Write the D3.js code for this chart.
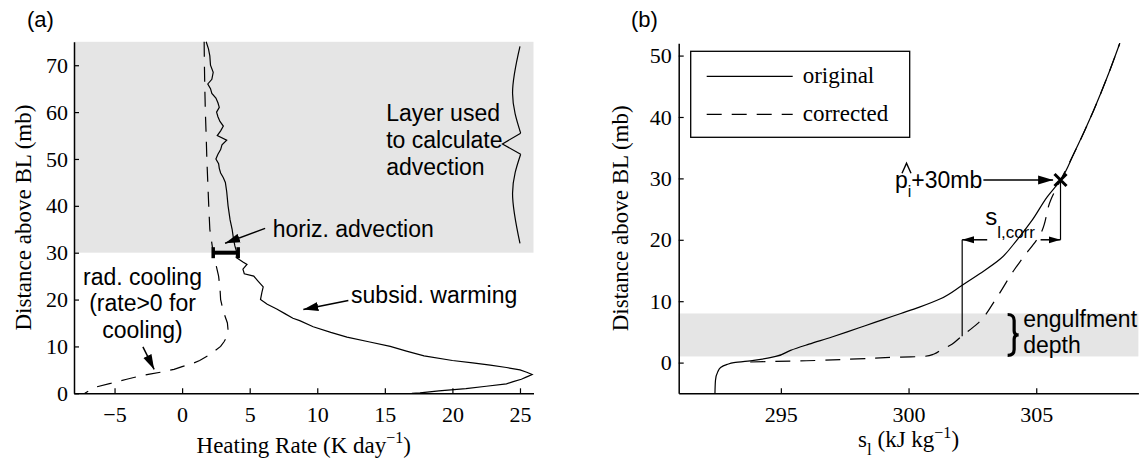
<!DOCTYPE html>
<html>
<head>
<meta charset="utf-8">
<script src="https://cdn.jsdelivr.net/npm/d3@7"></script>
<style>
  body { margin: 0; background: #fff; }
  svg { display: block; }
</style>
</head>
<body>
<svg id="chart" width="1147" height="466"></svg>
<script>
// ---- panel (a): heating rate profiles ----
var totalY = [75, 73.5, 72, 70, 68.5, 67, 66, 65, 64, 63, 62, 61, 60, 59, 58, 57, 56, 55, 54, 53, 52, 51, 50, 49, 48, 47, 46, 45, 43, 40, 37, 35, 33, 31.5, 30, 29, 28, 27.5, 26.5, 25.5, 25, 24, 22.7, 21.5, 20, 19, 18, 17, 16, 15.5, 14.2, 13, 12, 11, 10, 9, 8, 7, 6.5, 6, 5.5, 5, 4.5, 4, 3.5, 3, 2.5, 2, 1.5, 1, 0.5, 0.1, 0];
var totalRate = [1.78, 1.95, 2.05, 2.1, 2.3, 2.2, 1.9, 2.1, 2.2, 2.5, 2.65, 2.75, 2.55, 2.65, 2.8, 3.05, 2.85, 2.6, 3.3, 2.95, 2.85, 2.65, 2.5, 2.7, 2.75, 2.85, 3.05, 3.2, 3.3, 3.4, 3.55, 3.7, 3.8, 3.9, 4.05, 4.0, 4.5, 4.8, 4.5, 4.6, 5.3, 5.6, 6.0, 5.9, 5.8, 6.3, 7.0, 7.6, 8.2, 8.7, 9.7, 11.0, 12.2, 13.8, 15.4, 16.6, 17.9, 20.0, 21.5, 22.8, 24.0, 25.0, 25.5, 25.9, 25.5, 25.1, 24.5, 24.0, 22.5, 21.0, 19.0, 17.6, 17.0];

var radY = [75, 70, 65, 60, 55, 50, 45, 40, 35, 30, 27.5, 25, 22.5, 20, 17.5, 15, 13.5, 12, 11, 10, 9, 8, 7, 6.4, 5.7, 5.1, 4.5, 4.1, 3.5, 3.0, 2.5, 2.1, 1.4, 0.7, 0];
var radRate = [1.63, 1.65, 1.68, 1.72, 1.78, 1.83, 1.9, 1.97, 2.05, 2.3, 2.5, 2.7, 2.8, 2.85, 3.05, 3.35, 3.4, 3.3, 3.1, 2.85, 2.4, 1.9, 1.3, 0.8, 0, -0.6, -1.6, -2.4, -3.4, -4.1, -4.8, -5.3, -6.3, -6.8, -7.2];

var rateTicks = [-5, 0, 5, 10, 15, 20, 25];
var distTicksA = [0, 10, 20, 30, 40, 50, 60, 70];
var advLayer = [30, 75];
var advBar = [2.3, 4.15];   // horizontal advection bar at 30 mb

// ---- panel (b): s_l profiles ----
var origY = [-5, -2.9, -1.5, -0.8, -0.3, 0, 0.37, 1.0, 2.0, 3.0, 4.17, 5.0, 6.0, 7.0, 8.0, 9.0, 10.4, 12.6, 14.5, 16.9, 20, 23.2, 27, 29.7, 34, 41.1, 46.5, 52];
var origSl = [292.42, 292.44, 292.53, 292.64, 292.9, 293.16, 293.94, 294.8, 295.38, 296.1, 297.0, 297.6, 298.3, 299.0, 299.7, 300.4, 301.25, 302.1, 302.8, 303.6, 304.25, 304.84, 305.43, 305.95, 306.47, 307.25, 307.78, 308.27];

var corrY = [0.1, 0.3, 0.6, 0.9, 1.0, 1.4, 2.0, 3.0, 4.17, 6.35, 10.7, 15.0, 16.9, 21, 26.4, 29.7, 34, 41.1, 46.5, 52];
var corrSl = [293.8, 296, 298, 299.7, 300.6, 301.0, 301.25, 301.7, 302.04, 302.7, 303.47, 304.12, 304.45, 305.17, 305.56, 305.95, 306.47, 307.25, 307.78, 308.27];

var slTicks = [295, 300, 305];
var distTicksB = [0, 10, 20, 30, 40, 50];
var engulfLayer = [1, 8];
var pMark = [305.95, 29.74];   // p_i + 30 mb
var slCorr = [302.1, 305.95, 20]; // from, to, at height

var serif = "'Liberation Serif', 'Times New Roman', serif";
var sans = "'Liberation Sans', Arial, Helvetica, sans-serif";

var svg = d3.select("#chart");

// scales
var xa = d3.scaleLinear().domain([-8, 26]).range([74, 533.5]);
var ya = d3.scaleLinear().domain([0, 75]).range([393.3, 41.8]);
var xb = d3.scaleLinear().domain([291, 309]).range([678.7, 1138.4]);
var yb = d3.scaleLinear().domain([-5, 52]).range([393.3, 43.3]);

// arrow markers
var defs = svg.append("defs");
defs.append("marker")
    .attr("id", "arr")
    .attr("markerUnits", "userSpaceOnUse")
    .attr("markerWidth", 16).attr("markerHeight", 10)
    .attr("refX", 15).attr("refY", 5)
    .attr("orient", "auto")
    .append("path")
    .attr("d", "M0,0.5 L15,5 L0,9.5 Z")
    .attr("fill", "#000");
defs.append("marker")
    .attr("id", "arrSmall")
    .attr("markerUnits", "userSpaceOnUse")
    .attr("markerWidth", 13).attr("markerHeight", 8)
    .attr("refX", 12).attr("refY", 4)
    .attr("orient", "auto")
    .append("path")
    .attr("d", "M0,0.5 L12,4 L0,7.5 Z")
    .attr("fill", "#000");

function arrow(g, x, y, p0, p1, marker) {
    g.append("line")
        .attr("x1", x(p0[0])).attr("y1", y(p0[1]))
        .attr("x2", x(p1[0])).attr("y2", y(p1[1]))
        .attr("stroke", "#000").attr("stroke-width", 1.5)
        .attr("marker-end", "url(#" + (marker || "arr") + ")");
}

// ================= panel (a) =================
var ga = svg.append("g");

ga.append("rect")
    .attr("x", xa(-8)).attr("y", ya(advLayer[1]))
    .attr("width", xa(26) - xa(-8))
    .attr("height", ya(advLayer[0]) - ya(advLayer[1]))
    .attr("fill", "#e5e5e5");

var lineA = (xs, ys) => d3.line()
    .x((d, i) => xa(xs[i]))
    .y((d, i) => ya(ys[i]))(ys);

ga.append("path")
    .attr("d", lineA(radRate, radY))
    .attr("fill", "none").attr("stroke", "#000")
    .attr("stroke-width", 1.2).attr("stroke-dasharray", "15,10");

ga.append("path")
    .attr("d", lineA(totalRate, totalY))
    .attr("fill", "none").attr("stroke", "#000")
    .attr("stroke-width", 1.2);

// horizontal advection bar
ga.append("line")
    .attr("x1", xa(advBar[0])).attr("x2", xa(advBar[1]))
    .attr("y1", ya(30)).attr("y2", ya(30))
    .attr("stroke", "#000").attr("stroke-width", 4);
advBar.forEach(v => {
    ga.append("line")
        .attr("x1", xa(v)).attr("x2", xa(v))
        .attr("y1", ya(30) - 5.5).attr("y2", ya(30) + 5.5)
        .attr("stroke", "#000").attr("stroke-width", 3.5);
});

// curly brace for the advection layer
var braceUp = [[25, 74], [24.45, 64], [25.05, 55.5]];
var braceLo = [[25.05, 51], [24.45, 42.7], [25, 32]];
var braceLine = d3.line().x(d => xa(d[0])).y(d => ya(d[1])).curve(d3.curveNatural);
[braceUp, braceLo].forEach(pts => {
    ga.append("path").attr("d", braceLine(pts))
        .attr("fill", "none").attr("stroke", "#000").attr("stroke-width", 1.2);
});
ga.append("path")
    .attr("d", d3.line().x(d => xa(d[0])).y(d => ya(d[1])) ([[25.05, 55.5], [23.7, 53.2], [25.05, 51]]))
    .attr("fill", "none").attr("stroke", "#000").attr("stroke-width", 1.2);

// annotations (a)
function multiText(g, x, y, lines, anchor) {
    var t = g.append("text")
        .attr("x", x).attr("y", y)
        .attr("font-family", sans).attr("font-size", 23)
        .attr("text-anchor", anchor || "start");
    lines.forEach((s, i) => {
        t.append("tspan").attr("x", x).attr("dy", i ? 26.6 : 0).text(s);
    });
    return t;
}
multiText(ga, xa(15.1), ya(58), ["Layer used", "to calculate", "advection"]);
multiText(ga, xa(6.7), ya(33.3), ["horiz. advection"]);
multiText(ga, xa(-2.93), ya(23.2), ["rad. cooling", "(rate>0 for", "cooling)"], "middle");
multiText(ga, xa(12.5), ya(19.2), ["subsid. warming"]);

arrow(ga, xa, ya, [6.14, 35.2], [3.18, 32.0]);
arrow(ga, xa, ya, [-2.9, 9.9], [-2.07, 5.1]);
arrow(ga, xa, ya, [12.3, 19.8], [8.97, 17.9]);

// axes (a)
var axA = ga.append("g")
    .attr("transform", `translate(0,${ya(0)})`)
    .call(d3.axisBottom(xa).tickValues(rateTicks).tickSize(-5).tickSizeOuter(0).tickPadding(13.5));
var ayA = ga.append("g")
    .attr("transform", `translate(${xa(-8)},0)`)
    .call(d3.axisLeft(ya).tickValues(distTicksA).tickSize(-5).tickSizeOuter(0).tickPadding(6));

// labels (a)
var xlabA = ga.append("text")
    .attr("x", (xa.range()[0] + xa.range()[1]) / 2).attr("y", 453)
    .attr("text-anchor", "middle")
    .attr("font-family", serif).attr("font-size", 23);
xlabA.append("tspan").text("Heating Rate (K day");
xlabA.append("tspan").attr("font-size", 16).attr("dy", -10).text("\u22121");
xlabA.append("tspan").attr("dy", 10).text(")");

ga.append("text")
    .attr("transform", `translate(31,${(ya.range()[0] + ya.range()[1]) / 2}) rotate(-90)`)
    .attr("text-anchor", "middle")
    .attr("font-family", serif).attr("font-size", 23)
    .text("Distance above BL (mb)");

ga.append("text").attr("x", 27).attr("y", 27)
    .attr("font-family", sans).attr("font-size", 22).text("(a)");

// ================= panel (b) =================
var gb = svg.append("g");

gb.append("rect")
    .attr("x", xb(291)).attr("y", yb(engulfLayer[1]))
    .attr("width", xb(309) - xb(291))
    .attr("height", yb(engulfLayer[0]) - yb(engulfLayer[1]))
    .attr("fill", "#e5e5e5");

var lineB = (xs, ys) => d3.line()
    .x((d, i) => xb(xs[i]))
    .y((d, i) => yb(ys[i]))
    .curve(d3.curveMonotoneY)(ys);

gb.append("path")
    .attr("d", lineB(corrSl, corrY))
    .attr("fill", "none").attr("stroke", "#000")
    .attr("stroke-width", 1.2).attr("stroke-dasharray", "15,10");

gb.append("path")
    .attr("d", lineB(origSl, origY))
    .attr("fill", "none").attr("stroke", "#000")
    .attr("stroke-width", 1.2);

// s_l,corr construction lines
var yAtCorr = 4.3;
gb.append("line")
    .attr("x1", xb(slCorr[0])).attr("x2", xb(slCorr[0]))
    .attr("y1", yb(yAtCorr)).attr("y2", yb(slCorr[2]))
    .attr("stroke", "#000").attr("stroke-width", 1.2);
gb.append("line")
    .attr("x1", xb(slCorr[1])).attr("x2", xb(slCorr[1]))
    .attr("y1", yb(pMark[1])).attr("y2", yb(slCorr[2]))
    .attr("stroke", "#000").attr("stroke-width", 1.2);
arrow(gb, xb, yb, [303.08, slCorr[2]], [slCorr[0], slCorr[2]], "arrSmall");
arrow(gb, xb, yb, [305.17, slCorr[2]], [slCorr[1], slCorr[2]], "arrSmall");

// X marker
var px = xb(pMark[0]), py = yb(pMark[1]);
gb.append("path")
    .attr("d", `M${px - 6},${py - 6}L${px + 6},${py + 6}M${px - 6},${py + 6}L${px + 6},${py - 6}`)
    .attr("stroke", "#000").attr("stroke-width", 3);

// p_i + 30mb label and arrow
var ptx = xb(299.47), pty = yb(28.4);
var pt = gb.append("text")
    .attr("x", ptx).attr("y", pty)
    .attr("font-family", sans).attr("font-size", 23);
pt.append("tspan").text("p");
pt.append("tspan").attr("font-size", 16).attr("dy", 9).text("i");
pt.append("tspan").attr("dy", -9).text("+30mb");
// hat over p
gb.append("path")
    .attr("d", `M${ptx + 7},${pty - 15}L${ptx + 11.5},${pty - 25}L${ptx + 16},${pty - 15}`)
    .attr("fill", "none").attr("stroke", "#000").attr("stroke-width", 1.4);
arrow(gb, xb, yb, [302.93, pMark[1]], [305.66, pMark[1]]);

// s_l,corr label
var st = gb.append("text")
    .attr("x", xb(303.0)).attr("y", yb(22.4))
    .attr("font-family", sans).attr("font-size", 24);
st.append("tspan").text("s");
st.append("tspan").attr("font-size", 17).attr("dy", 13).text("l,corr");

// engulfment brace
var bx0 = xb(303.88), byT = yb(engulfLayer[1]) + 1, byB = yb(engulfLayer[0]) - 1;
var bym = (byT + byB) / 2, bx1 = bx0 + 6.5, btip = bx0 + 11;
var bp = d3.path();
bp.moveTo(bx0, byT);
bp.quadraticCurveTo(bx1, byT, bx1, byT + 6);
bp.lineTo(bx1, bym - 4);
bp.quadraticCurveTo(bx1, bym, btip, bym);
bp.quadraticCurveTo(bx1, bym, bx1, bym + 4);
bp.lineTo(bx1, byB - 6);
bp.quadraticCurveTo(bx1, byB, bx0, byB);
gb.append("path").attr("d", bp.toString())
    .attr("fill", "none").attr("stroke", "#000").attr("stroke-width", 3.2);
multiText(gb, xb(304.49), yb(5.85), ["engulfment", "depth"]);

// legend
var lx = xb(291) + 12, ly = yb(52) + 8;
var leg = gb.append("g").attr("transform", `translate(${lx},${ly})`);
leg.append("rect").attr("width", 219).attr("height", 86)
    .attr("fill", "#fff").attr("stroke", "#000").attr("stroke-width", 1.3);
[["original", null], ["corrected", "15,10"]].forEach((d, i) => {
    leg.append("line")
        .attr("x1", 16).attr("x2", 102)
        .attr("y1", 25 + i * 38).attr("y2", 25 + i * 38)
        .attr("stroke", "#000").attr("stroke-width", 1.2)
        .attr("stroke-dasharray", d[1]);
    leg.append("text")
        .attr("x", 112).attr("y", 31.5 + i * 38)
        .attr("font-family", serif).attr("font-size", 23)
        .text(d[0]);
});

// axes (b)
var axB = gb.append("g")
    .attr("transform", `translate(0,${yb(-5)})`)
    .call(d3.axisBottom(xb).tickValues(slTicks).tickSize(-5).tickSizeOuter(0).tickPadding(13.5));
var ayB = gb.append("g")
    .attr("transform", `translate(${xb(291)},0)`)
    .call(d3.axisLeft(yb).tickValues(distTicksB).tickSize(-5).tickSizeOuter(0).tickPadding(7));

var xlabB = gb.append("text")
    .attr("x", (xb.range()[0] + xb.range()[1]) / 2).attr("y", 447)
    .attr("text-anchor", "middle")
    .attr("font-family", serif).attr("font-size", 23);
xlabB.append("tspan").text("s");
xlabB.append("tspan").attr("font-size", 17).attr("dy", 8).text("l");
xlabB.append("tspan").attr("dy", -8).text(" (kJ kg");
xlabB.append("tspan").attr("font-size", 16).attr("dy", -9).text("\u22121");
xlabB.append("tspan").attr("dy", 9).text(")");

gb.append("text")
    .attr("transform", `translate(628,${(yb.range()[0] + yb.range()[1]) / 2}) rotate(-90)`)
    .attr("text-anchor", "middle")
    .attr("font-family", serif).attr("font-size", 23)
    .text("Distance above BL (mb)");

gb.append("text").attr("x", 631).attr("y", 27)
    .attr("font-family", sans).attr("font-size", 22).text("(b)");

// axis styling
[axA, ayA, axB, ayB].forEach(ax => {
    ax.selectAll("text").attr("font-family", serif).attr("font-size", 22).attr("fill", "#000");
    ax.select(".domain").attr("stroke", "#000").attr("stroke-width", 1.5);
    ax.selectAll(".tick line").attr("stroke", "#000").attr("stroke-width", 1.2);
});
</script>
</body>
</html>
